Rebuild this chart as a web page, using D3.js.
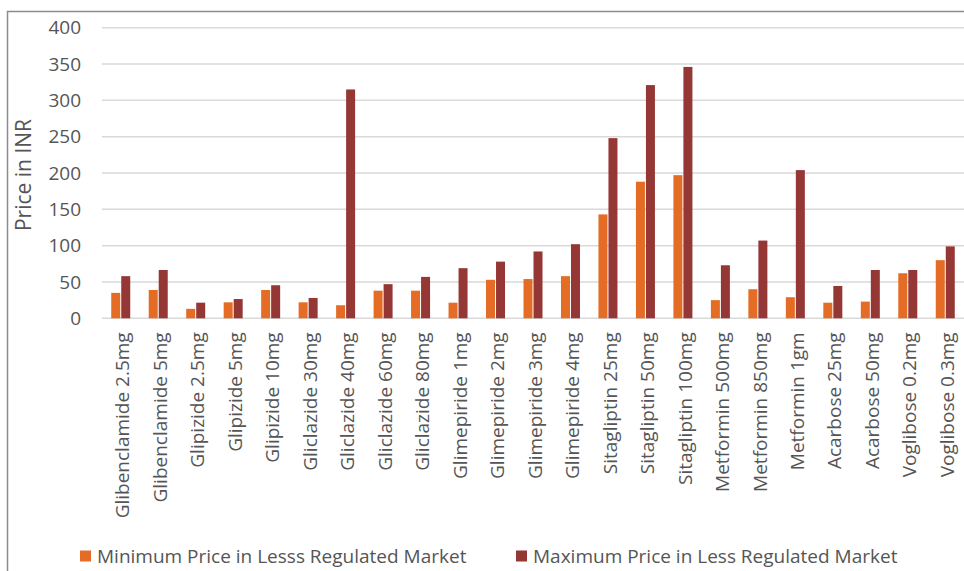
<!DOCTYPE html>
<html>
<head>
<meta charset="utf-8">
<script src="https://cdn.jsdelivr.net/npm/d3@7"></script>
<style>
  body { margin: 0; background: #fff; }
  svg text { font-family: "Open Sans", sans-serif; fill: #555; }
</style>
</head>
<body>
<div id="chart-container"></div>
<script>
const categories = ["Glibenclamide 2.5mg", "Glibenclamide 5mg", "Glipizide 2.5mg", "Glipizide 5mg",
  "Glipizide 10mg", "Gliclazide 30mg", "Gliclazide 40mg", "Gliclazide 60mg", "Gliclazide 80mg",
  "Glimepiride 1mg", "Glimepiride 2mg", "Glimepiride 3mg", "Glimepiride 4mg", "Sitagliptin 25mg",
  "Sitagliptin 50mg", "Sitagliptin 100mg", "Metformin 500mg", "Metformin 850mg", "Metformin 1gm",
  "Acarbose 25mg", "Acarbose 50mg", "Voglibose 0.2mg", "Voglibose 0.3mg"]
const minPrice = [35, 39, 13, 22, 39, 22, 18, 38, 38, 21.5, 53, 54, 58, 143, 188, 197, 25, 40, 29, 21.5, 23, 62, 80]
const maxPrice = [58, 66.5, 21.5, 26.5, 45.5, 28, 315, 47, 57, 69, 78, 92, 102, 248, 321, 346, 73, 107, 204, 44.5, 66.5, 66.5, 99]
const seriesNames = ["Minimum Price in Lesss Regulated Market", "Maximum Price in Less Regulated Market"]
const colors = ["#e46c24", "#953735"]
const yTicks = [0, 50, 100, 150, 200, 250, 300, 350, 400]

const W = 964, H = 571
const plot = {left: 102, right: 964, top: 27.7, bottom: 318.3}

const svg = d3.select('#chart-container')
  .append('svg')
  .attr('width', W)
  .attr('height', H)

// outer frame (right and bottom fall outside the picture)
svg.append('rect')
  .attr('x', 7.5).attr('y', 11.5)
  .attr('width', W).attr('height', H)
  .attr('fill', 'none')
  .attr('stroke', '#8c8c8c')
  .attr('stroke-width', 1.5)

const x = d3.scaleBand()
  .domain(categories)
  .range([plot.left, plot.right])
  .padding(0)

const y = d3.scaleLinear()
  .domain([0, 400])
  .range([plot.bottom, plot.top])

// gridlines
svg.append('g')
  .selectAll('line')
  .data(yTicks)
  .join('line')
  .attr('x1', plot.left).attr('x2', plot.right)
  .attr('y1', d => y(d)).attr('y2', d => y(d))
  .attr('stroke', '#d9d9d9')
  .attr('stroke-width', 1.5)

// y axis labels
const yAxis = svg.append('g')
  .attr('transform', `translate(${plot.left}, 0)`)
  .call(d3.axisLeft(y).tickValues(yTicks).tickSize(0).tickPadding(21))
yAxis.select('.domain').remove()
yAxis.selectAll('text')
  .style('font-size', '19px')
  .style('font-family', '"Open Sans", sans-serif')
  .attr('fill', '#555')

svg.append('text')
  .attr('transform', `translate(31, ${(plot.top + plot.bottom) / 2 + 2}) rotate(-90)`)
  .attr('text-anchor', 'middle')
  .style('font-size', '21px')
  .text('Price in INR')

// x axis labels
const xAxis = svg.append('g')
  .attr('transform', `translate(0, ${plot.bottom})`)
  .call(d3.axisBottom(x).tickSize(0).tickPadding(0))
xAxis.select('.domain').remove()
xAxis.selectAll('text')
  .style('font-size', '19px')
  .style('font-family', '"Open Sans", sans-serif')
  .attr('fill', '#555')
  .attr('text-anchor', 'end')
  .attr('dy', '0.35em')
  .attr('transform', 'translate(2, 14) rotate(-90)')
  .attr('x', 0).attr('y', 0)

// bars
const barW = 9
const groups = svg.append('g')
  .selectAll('g')
  .data(categories)
  .join('g')
  .attr('transform', d => `translate(${x(d) + x.bandwidth() / 2}, 0)`)

groups.append('rect')
  .attr('x', -barW - 0.5)
  .attr('y', (d, i) => y(minPrice[i]))
  .attr('width', barW)
  .attr('height', (d, i) => y(0) - y(minPrice[i]))
  .attr('fill', colors[0])

groups.append('rect')
  .attr('x', 0.5)
  .attr('y', (d, i) => y(maxPrice[i]))
  .attr('width', barW)
  .attr('height', (d, i) => y(0) - y(maxPrice[i]))
  .attr('fill', colors[1])

// legend
const legendX = [80, 516]
const legend = svg.append('g')
  .selectAll('g')
  .data(seriesNames)
  .join('g')
  .attr('transform', (d, i) => `translate(${legendX[i]}, 556)`)
legend.append('rect')
  .attr('x', 0).attr('y', -5.5)
  .attr('width', 11).attr('height', 11)
  .attr('fill', (d, i) => colors[i])
legend.append('text')
  .attr('x', 17).attr('dy', '0.35em')
  .style('font-size', '19px')
  .text(d => d)
</script>
</body>
</html>
